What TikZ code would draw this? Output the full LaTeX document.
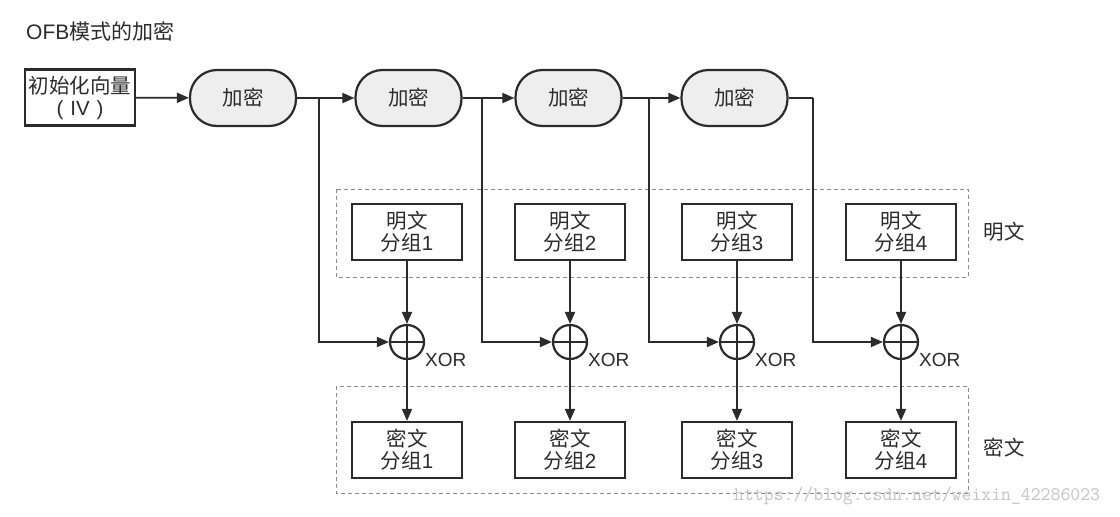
\documentclass[tikz,border=0pt]{standalone}
\usepackage{fontspec}
\setmainfont{Noto Sans CJK SC}
\newfontfamily\lat{Liberation Sans}
\usetikzlibrary{arrows.meta}
\definecolor{ink}{HTML}{2B2B2B}
\definecolor{dashc}{HTML}{8C8C8C}
\definecolor{encfill}{HTML}{EEEEEE}
\definecolor{wmc}{HTML}{C4C4C4}
\begin{document}
\begin{tikzpicture}[x=1pt,y=-1pt,
  txt/.style={font=\fontsize{20.5}{22}\selectfont, text=ink, align=center},
  encbox/.style={draw=ink, line width=2.2pt, fill=encfill, minimum width=106pt, minimum height=56pt, rounded corners=27pt, inner sep=0pt, txt},
  blockbox/.style={draw=ink, line width=2.2pt, minimum width=110pt, minimum height=56pt, inner sep=0pt, txt},
  xorc/.style={draw=ink, line width=2.2pt, circle, minimum size=34pt, inner sep=0pt},
  arr/.style={draw=ink, line width=1.8pt, -{Triangle[length=12pt,width=10pt]}},
  ln/.style={draw=ink, line width=1.8pt},
  grp/.style={draw=dashc, line width=0.9pt, dash pattern=on 4pt off 3pt},
  xlab/.style={anchor=west, font=\lat\fontsize{19}{20}\selectfont, text=ink, inner sep=0pt}]
\useasboundingbox (0,0) rectangle (1120,517);
\fill[white] (0,0) rectangle (1120,517);

% dashed groups
\draw[grp] (336,189) rectangle (968,277);
\draw[grp] (336,386) rectangle (968,493);

% title
\node[anchor=west, inner sep=0pt, font=\fontsize{21}{22}\selectfont, text=ink] (title) at (26,31) {{\lat OFB}模式的加密};

% IV
\node[blockbox] (iv) at (80,97.5) {初始化向量\\{\lat (\,\,IV\,\,)}};

% encryption
\node[encbox] (e1) at (243,98) {加密};
\node[encbox] (e2) at (408.5,98) {加密};
\node[encbox] (e3) at (568.5,98) {加密};
\node[encbox] (e4) at (734.5,98) {加密};

\coordinate (b1) at (319,98);
\coordinate (b2) at (482,98);
\coordinate (b3) at (649,98);
\coordinate (b4) at (813,98);

% plaintext blocks
\node[blockbox] (p1) at (407,232) {明文\\分组{\lat 1}};
\node[blockbox] (p2) at (570,232) {明文\\分组{\lat 2}};
\node[blockbox] (p3) at (737,232) {明文\\分组{\lat 3}};
\node[blockbox] (p4) at (901,232) {明文\\分组{\lat 4}};

% xor
\foreach \i/\x in {1/407,2/570,3/737,4/901}{
  \node[xorc] (x\i) at (\x,342) {};
  \draw[ink, line width=2.2pt] (x\i.north) -- (x\i.south) (x\i.west) -- (x\i.east);
  \node[xlab] (xl\i) at ([shift={(18,18)}]x\i.center) {XOR};
}

% ciphertext blocks
\node[blockbox] (c1) at (407,450) {密文\\分组{\lat 1}};
\node[blockbox] (c2) at (570,450) {密文\\分组{\lat 2}};
\node[blockbox] (c3) at (737,450) {密文\\分组{\lat 3}};
\node[blockbox] (c4) at (901,450) {密文\\分组{\lat 4}};

% side labels
\node[txt] (lp) at (1004,232) {明文};
\node[txt] (lc) at (1004,448) {密文};

% chain connectors
\draw[arr] (iv) -- (e1);
\draw[arr] (e1) -- (e2);
\draw[arr] (e2) -- (e3);
\draw[arr] (e3) -- (e4);
\draw[ln] (e4.east) -- (b4);
\draw[arr] (b1) |- (x1);
\draw[arr] (b2) |- (x2);
\draw[arr] (b3) |- (x3);
\draw[arr] (b4) |- (x4);

\foreach \i in {1,2,3,4}{
  \draw[arr] (p\i) -- (x\i);
  \draw[arr] (x\i) -- (c\i);
}

% watermark
\node[anchor=west, inner sep=0pt, font=\ttfamily\fontsize{19.2}{20}\selectfont, text=wmc] (wm) at (734,496) {https://blog.csdn.net/weixin\_42286023};
\end{tikzpicture}
\end{document}
